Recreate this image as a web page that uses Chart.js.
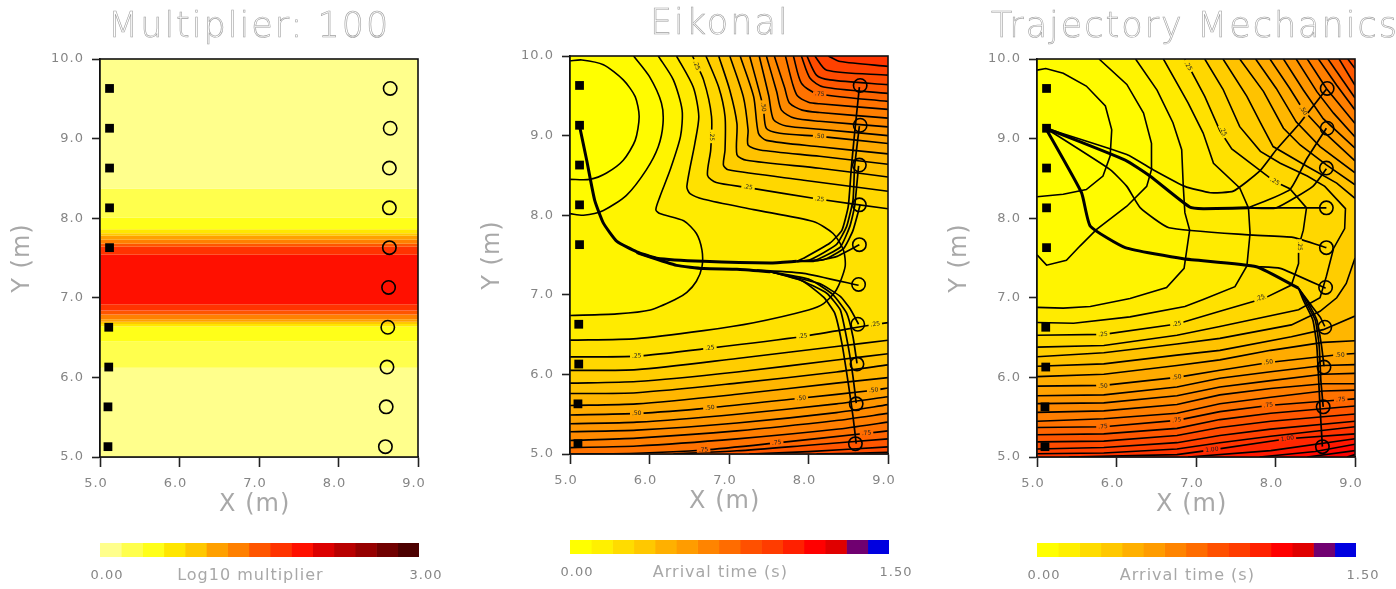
<!DOCTYPE html>
<html>
<head>
<meta charset="utf-8">
<title>Arrival time panels</title>
<script src="https://cdn.jsdelivr.net/npm/chart.js@4/dist/chart.umd.js"></script>
<style>
    html, body { margin: 0; padding: 0; background: #fff; overflow: hidden; width: 1396px; height: 589px; }
    .panel { position: absolute; width: 459px; height: 592px; }
    .panel canvas { position: absolute; left: 0; }
    .plot { top: 0; }
    .bar { top: 525px; }
    .heading {
        position: absolute; top: 0; white-space: nowrap; color: #fff;
        font: 200 35px/50px "DejaVu Sans", sans-serif; letter-spacing: 2px;
        -webkit-text-stroke: 0.6px #a0a0a0;
        will-change: transform;
    }
</style>
</head>
<body>
<script>
// receivers and sources (same survey in all three panels)
const receiverX = [8.65, 8.65, 8.64, 8.64, 8.64, 8.63, 8.62, 8.61, 8.60, 8.59];
const receiverY = [9.63, 9.13, 8.63, 8.13, 7.63, 7.13, 6.63, 6.13, 5.63, 5.13];
const sourceX = [5.12, 5.12, 5.12, 5.12, 5.12, 5.11, 5.11, 5.10, 5.10];
const sourceY = [9.63, 9.13, 8.63, 8.13, 7.63, 6.63, 6.13, 5.63, 5.13];

const axisTicksX = [5, 6, 7, 8, 9];
const axisTicksY = [5, 6, 7, 8, 9, 10];

// left panel, log10 multiplier in horizontal bands
const bandTop = [10, 8.37, 8.01, 7.86, 7.81, 7.78, 7.73, 7.68, 7.64, 7.54, 6.92, 6.84, 6.79, 6.73, 6.70, 6.67, 6.64, 6.45, 6.12];
const bandBottom = [8.37, 8.01, 7.86, 7.81, 7.78, 7.73, 7.68, 7.64, 7.54, 6.92, 6.84, 6.79, 6.73, 6.70, 6.67, 6.64, 6.45, 6.12, 5];
const bandLogValue = [0.1, 0.3, 0.5, 0.7, 0.9, 1.1, 1.3, 1.5, 1.7, 1.9, 1.7, 1.5, 1.3, 1.1, 0.9, 0.7, 0.5, 0.3, 0.1];

const logColors = ['#FFFF8C', '#FFFF4D', '#FFFF19', '#FFE600', '#FFC800', '#FFA000', '#FF8000', '#FF5500', '#FF3300', '#FF1000', '#DC0000', '#B80000', '#960000', '#700000', '#4C0000'];
const arrivalColors = ['#FFFF00', '#FFF000', '#FFDC00', '#FFC800', '#FFB000', '#FF9C00', '#FF8400', '#FF6C00', '#FF5000', '#FF3C00', '#FF2000', '#FF0000', '#E00000', '#700070', '#0000E0'];

// Eikonal contours: upper = from the top edge, lower = from the left edge
const eikonalLevels = [0.05, 0.10, 0.15, 0.20, 0.25, 0.30, 0.35, 0.40, 0.45, 0.50, 0.55, 0.60, 0.65, 0.70, 0.75, 0.80, 0.85, 0.90, 0.95];
const eikonalUpper = [
    [[5, 9.94], [5.15, 9.95], [5.42, 9.89], [5.67, 9.70], [5.82, 9.49], [5.87, 9.24], [5.82, 8.94], [5.67, 8.69], [5.46, 8.53], [5.25, 8.45], [5, 8.45]],
    [[5.80, 10], [6.0, 9.74], [6.15, 9.41], [6.17, 9.15], [6.11, 8.86], [5.96, 8.57], [5.71, 8.25], [5.42, 8.06], [5.17, 8.0], [5, 8.02]],
    [[6.11, 10], [6.30, 9.70], [6.41, 9.32], [6.39, 8.99], [6.26, 8.57], [6.13, 8.23], [6.08, 8.07], [6.13, 8.02], [6.43, 7.93], [6.59, 7.77], [6.66, 7.56], [6.66, 7.35], [6.59, 7.17], [6.47, 7.03], [6.34, 6.95], [6.01, 6.81], [5.59, 6.76], [5, 6.74]],
    [[6.34, 10], [6.55, 9.61], [6.62, 9.24], [6.57, 8.90], [6.47, 8.36], [6.51, 8.27], [6.68, 8.20], [7.31, 8.07], [8.06, 7.92], [8.31, 7.77], [8.44, 7.56], [8.46, 7.35], [8.35, 7.06], [8.19, 6.89], [8.0, 6.81], [7.31, 6.65], [6.68, 6.55], [5.84, 6.45], [5, 6.43]],
    [[6.54, 10], [6.68, 9.70], [6.78, 9.24], [6.77, 8.82], [6.73, 8.50], [6.84, 8.41], [7.22, 8.35], [8.14, 8.20], [9, 8.08]],
    [[6.71, 10], [6.87, 9.61], [6.95, 9.24], [6.95, 8.82], [6.93, 8.63], [6.99, 8.57], [7.94, 8.44], [9, 8.30]],
    [[6.87, 10], [7.01, 9.57], [7.10, 9.15], [7.10, 8.76], [7.22, 8.69], [8.14, 8.59], [9, 8.48]],
    [[7.01, 10], [7.18, 9.49], [7.24, 9.07], [7.24, 8.88], [7.39, 8.82], [8.14, 8.74], [9, 8.64]],
    [[7.14, 10], [7.31, 9.49], [7.37, 9.03], [7.47, 8.94], [8.14, 8.86], [9, 8.77]],
    [[7.26, 10], [7.43, 9.36], [7.47, 9.09], [7.64, 9.03], [8.14, 8.99], [9, 8.90]],
    [[7.38, 10], [7.50, 9.50], [7.56, 9.20], [7.72, 9.12], [8.14, 9.08], [9, 9.00]],
    [[7.47, 10], [7.60, 9.55], [7.66, 9.32], [7.82, 9.22], [8.14, 9.18], [9, 9.11]],
    [[7.57, 10], [7.70, 9.60], [7.76, 9.41], [7.92, 9.32], [8.14, 9.29], [9, 9.22]],
    [[7.71, 10], [7.80, 9.65], [7.86, 9.50], [8.0, 9.42], [8.14, 9.40], [9, 9.33]],
    [[7.81, 10], [7.91, 9.66], [8.10, 9.53], [9, 9.43]],
    [[7.91, 10], [8.02, 9.72], [8.19, 9.61], [9, 9.53]],
    [[7.98, 10], [8.10, 9.76], [8.27, 9.70], [9, 9.64]],
    [[8.08, 10], [8.23, 9.82], [9, 9.76]],
    [[8.25, 10], [8.40, 9.93], [9, 9.87]]
];
const eikonalLower = [
    [], [], [], [],
    [[5, 6.22], [5.84, 6.23], [6.76, 6.33], [7.94, 6.48], [8.84, 6.63], [9, 6.65]],
    [[5, 6.05], [5.84, 6.06], [7.10, 6.20], [8.35, 6.35], [9, 6.43]],
    [[5, 5.89], [5.84, 5.91], [7.10, 6.03], [8.35, 6.18], [9, 6.26]],
    [[5, 5.76], [5.84, 5.77], [7.10, 5.89], [8.35, 6.03], [9, 6.12]],
    [[5, 5.61], [5.84, 5.63], [7.10, 5.75], [8.35, 5.89], [9, 5.96]],
    [[5, 5.49], [5.84, 5.51], [6.76, 5.58], [7.89, 5.70], [8.82, 5.80], [9, 5.83]],
    [[5, 5.38], [5.84, 5.40], [7.10, 5.50], [8.35, 5.63], [9, 5.72]],
    [[5, 5.28], [5.84, 5.30], [7.10, 5.39], [8.35, 5.52], [9, 5.62]],
    [[5, 5.17], [5.84, 5.20], [7.10, 5.29], [8.35, 5.42], [9, 5.51]],
    [[5, 5.08], [5.84, 5.10], [7.10, 5.19], [8.35, 5.31], [9, 5.40]],
    [[5, 5.00], [5.84, 5.01], [6.68, 5.05], [7.6, 5.14], [8.73, 5.26], [9, 5.29]],
    [[6.3, 5.0], [7.10, 5.04], [8.0, 5.11], [9, 5.19]],
    [[7.25, 5.0], [8.0, 5.03], [9, 5.09]],
    [[8.1, 5.0], [9, 5.02]],
    [[9, 5]]
];
const eikonalLabelX = [6.59, 6.78, 7.43, 7.24, 8.14, 8.14, 8.14, 5.84, 6.76, 7.93, 8.84, 5.84, 6.76, 7.91, 8.82, 6.68, 7.6, 8.73];
const eikonalLabelY = [9.88, 8.99, 9.36, 8.35, 8.20, 8.99, 9.52, 6.23, 6.33, 6.48, 6.63, 5.51, 5.58, 5.70, 5.80, 5.05, 5.14, 5.26];
const eikonalLabelText = ['.25', '.25', '.50', '.25', '.25', '.50', '.75', '.25', '.25', '.25', '.25', '.50', '.50', '.50', '.50', '.75', '.75', '.75'];
const eikonalLabelAngle = [70, 90, 85, 8, 8, 5, 5, -2, -6, -7, -8, -3, -5, -6, -6, -3, -5, -6];
const eikonalTrunks = [
    [[5.12, 9.12], [5.21, 8.69], [5.31, 8.19], [5.42, 7.90], [5.59, 7.67], [5.84, 7.54], [6.09, 7.46], [6.68, 7.42], [7.52, 7.40], [7.85, 7.42]],
    [[5.84, 7.53], [6.34, 7.37], [6.68, 7.33], [7.10, 7.32], [7.52, 7.29]]
];
const eikonalRays = [
    [[7.85, 7.42], [7.94, 7.46], [8.27, 7.65], [8.42, 7.81], [8.50, 8.11], [8.54, 8.61], [8.58, 9.03], [8.64, 9.61]],
    [[7.85, 7.42], [8.02, 7.44], [8.35, 7.63], [8.48, 7.86], [8.56, 8.19], [8.58, 8.61], [8.64, 9.12]],
    [[7.85, 7.42], [8.10, 7.44], [8.40, 7.60], [8.52, 7.86], [8.58, 8.11], [8.63, 8.62]],
    [[7.85, 7.42], [8.19, 7.44], [8.44, 7.58], [8.56, 7.81], [8.65, 8.13]],
    [[7.85, 7.42], [8.06, 7.42], [8.35, 7.48], [8.64, 7.63]],
    [[7.35, 7.31], [7.94, 7.27], [8.63, 7.12]],
    [[7.52, 7.29], [8.14, 7.14], [8.40, 6.98], [8.52, 6.83], [8.63, 6.63]],
    [[7.52, 7.29], [8.02, 7.19], [8.31, 7.0], [8.48, 6.77], [8.56, 6.47], [8.61, 6.14]],
    [[7.52, 7.29], [7.89, 7.19], [8.23, 7.02], [8.40, 6.81], [8.50, 6.35], [8.56, 5.97], [8.60, 5.64]],
    [[7.52, 7.29], [7.93, 7.17], [8.19, 6.97], [8.33, 6.77], [8.42, 6.39], [8.50, 5.89], [8.56, 5.47], [8.60, 5.13]]
];

// Trajectory mechanics contours, coarser grid so no smoothing on these
const trajectoryLevels = [0.05, 0.10, 0.15, 0.20, 0.25, 0.30, 0.35, 0.40, 0.45, 0.50, 0.55, 0.60, 0.65, 0.70, 0.75, 0.80, 0.85, 0.90, 0.95, 1.00, 1.05, 1.10, 1.15, 1.20];
const trajectoryUpper = [
    [[5, 9.86], [5.11, 9.88], [5.33, 9.82], [5.62, 9.66], [5.86, 9.41], [5.94, 9.11], [5.92, 8.78], [5.83, 8.53], [5.62, 8.36], [5.33, 8.30], [5, 8.27]],
    [[5.78, 10], [6.13, 9.68], [6.34, 9.32], [6.44, 8.94], [6.44, 8.61], [6.38, 8.40], [6.13, 8.15], [5.75, 7.86], [5.54, 7.65], [5.37, 7.47], [5.12, 7.41], [5, 7.54]],
    [[6.24, 10], [6.51, 9.61], [6.71, 9.20], [6.82, 8.86], [6.84, 8.40], [6.86, 8.07], [6.92, 7.85], [6.85, 7.37], [6.63, 7.13], [6.17, 6.99], [5.67, 6.89], [5.33, 6.87], [5, 6.88]],
    [[6.59, 10], [6.90, 9.45], [7.09, 9.07], [7.22, 8.69], [7.55, 8.38], [7.66, 8.13], [7.68, 7.81], [7.64, 7.40], [7.49, 7.14], [7.09, 6.98], [6.86, 6.89], [6.17, 6.76], [5.46, 6.68], [5, 6.69]],
    [[6.86, 10], [7.11, 9.53], [7.30, 9.10], [7.45, 8.87], [7.78, 8.62], [7.99, 8.46], [8.18, 8.37], [8.39, 8.13], [8.35, 7.85], [8.29, 7.64], [8.29, 7.43], [8.20, 7.16], [7.85, 6.99], [7.30, 6.83], [6.76, 6.67], [5.84, 6.54], [5, 6.53]],
    [[7.11, 10], [7.34, 9.62], [7.55, 9.15], [7.81, 8.84], [8.06, 8.69], [8.40, 8.53], [8.62, 8.40], [8.88, 8.12], [8.87, 7.87], [8.73, 7.62], [8.64, 7.27], [8.56, 7.0], [8.29, 6.85], [7.30, 6.64], [6.76, 6.53], [5.84, 6.40], [5, 6.38]],
    [[7.34, 10], [7.64, 9.53], [7.81, 9.20], [7.97, 8.90], [8.40, 8.65], [8.77, 8.44], [9, 8.25]],
    [[7.55, 10], [7.85, 9.59], [8.10, 9.13], [8.31, 8.92], [8.64, 8.67], [9, 8.42]],
    [[7.75, 10], [8.01, 9.63], [8.26, 9.21], [8.56, 8.90], [9, 8.57]],
    [[7.93, 10], [8.18, 9.63], [8.35, 9.36], [8.60, 9.09], [9, 8.72]],
    [[8.10, 10], [8.35, 9.61], [8.60, 9.25], [9, 8.88]],
    [[8.26, 10], [8.52, 9.59], [8.73, 9.32], [9, 9.02]],
    [[8.40, 10], [8.64, 9.63], [9, 9.19]],
    [[8.54, 10], [8.77, 9.67], [9, 9.36]],
    [[8.66, 10], [9, 9.51]],
    [[8.80, 10], [9, 9.67]],
    [[8.91, 10], [9, 9.88]],
    [], [], [], [], [], [], []
];
const trajectoryLower = [
    [], [], [], [], [], [],
    [[5, 6.26], [5.84, 6.31], [6.76, 6.42], [7.30, 6.49], [8.20, 6.66], [8.56, 6.83], [8.77, 7.0], [8.89, 7.18], [9, 7.50]],
    [[5, 6.14], [5.84, 6.17], [6.76, 6.28], [7.30, 6.34], [8.2, 6.51], [8.6, 6.60], [9, 6.77]],
    [[5, 6.01], [5.84, 6.04], [6.76, 6.15], [7.30, 6.22], [7.94, 6.34], [8.6, 6.44], [9, 6.46]],
    [[5, 5.89], [5.84, 5.90], [6.76, 6.0], [7.30, 6.09], [7.94, 6.19], [8.84, 6.29], [9, 6.30]],
    [[5, 5.77], [5.84, 5.78], [6.76, 5.88], [7.30, 5.99], [7.94, 6.07], [8.6, 6.15], [9, 6.16]],
    [[5, 5.67], [5.84, 5.68], [6.76, 5.77], [7.30, 5.88], [7.94, 5.96], [8.6, 6.04], [9, 6.05]],
    [[5, 5.56], [5.84, 5.58], [6.76, 5.66], [7.30, 5.78], [7.94, 5.86], [8.6, 5.92], [9, 5.92]],
    [[5, 5.45], [5.84, 5.48], [6.76, 5.55], [7.30, 5.67], [7.94, 5.75], [8.6, 5.83], [9, 5.84]],
    [[5, 5.37], [5.84, 5.38], [6.76, 5.46], [7.30, 5.57], [7.94, 5.65], [8.84, 5.72], [9, 5.73]],
    [[5, 5.28], [5.84, 5.29], [6.76, 5.36], [7.30, 5.47], [7.94, 5.55], [9, 5.64]],
    [[5, 5.19], [5.84, 5.20], [6.76, 5.27], [7.30, 5.37], [7.94, 5.45], [9, 5.54]],
    [[5, 5.10], [5.84, 5.12], [6.76, 5.18], [7.30, 5.27], [7.94, 5.35], [9, 5.45]],
    [[5, 5.04], [5.84, 5.05], [6.76, 5.10], [7.30, 5.18], [7.94, 5.26], [9, 5.38]],
    [[5.4, 5.0], [6.76, 5.03], [7.20, 5.09], [8.15, 5.23], [9, 5.29]],
    [[6.9, 5.0], [7.94, 5.08], [9, 5.23]],
    [[7.8, 5.0], [8.5, 5.07], [9, 5.16]],
    [[8.4, 5.0], [9, 5.08]],
    [[8.9, 5.0], [9, 5.03]]
];
const trajectoryLabelX = [6.90, 7.34, 7.99, 8.35, 8.30, 7.81, 5.83, 6.76, 5.83, 6.76, 7.91, 8.81, 5.83, 6.76, 7.91, 8.82, 7.20, 8.15];
const trajectoryLabelY = [9.91, 9.09, 8.46, 9.35, 7.65, 7.0, 6.54, 6.67, 5.89, 6.0, 6.19, 6.28, 5.38, 5.46, 5.65, 5.72, 5.09, 5.23];
const trajectoryLabelText = ['.25', '.25', '.25', '.50', '.25', '.25', '.25', '.25', '.50', '.50', '.50', '.50', '.75', '.75', '.75', '.75', '1.00', '1.00'];
const trajectoryLabelAngle = [60, 65, 30, 55, 90, -20, -3, -8, -3, -7, -7, -2, -3, -7, -7, -2, -6, -8];
const trajectoryTrunks = [
    [[5.11, 9.13], [5.56, 8.32], [5.67, 7.90], [6.11, 7.63], [6.84, 7.49], [7.76, 7.39], [8.29, 7.12]],
    [[5.11, 9.13], [6.11, 8.73], [6.42, 8.53], [6.92, 8.14], [7.09, 8.12], [7.66, 8.13]]
];
const trajectoryRays = [
    [[5.11, 9.13], [6.13, 8.80], [6.46, 8.61], [6.86, 8.40], [7.18, 8.32], [7.47, 8.34], [7.80, 8.59], [8.01, 8.86], [8.31, 9.20], [8.64, 9.62]],
    [[7.66, 8.13], [8.18, 8.36], [8.39, 8.74], [8.64, 9.13]],
    [[7.66, 8.13], [8.01, 8.13], [8.47, 8.40], [8.64, 8.62]],
    [[7.66, 8.13], [8.64, 8.13]],
    [[5.11, 9.13], [5.92, 8.61], [6.13, 8.40], [6.30, 8.13], [6.66, 7.88], [7.66, 7.79], [8.22, 7.76], [8.64, 7.63]],
    [[7.76, 7.39], [8.06, 7.37], [8.63, 7.12]],
    [[8.29, 7.12], [8.43, 6.93], [8.56, 6.76], [8.62, 6.64]],
    [[8.29, 7.12], [8.39, 6.97], [8.52, 6.72], [8.58, 6.39], [8.61, 6.14]],
    [[8.29, 7.12], [8.37, 6.97], [8.50, 6.72], [8.55, 6.39], [8.57, 5.97], [8.60, 5.63]],
    [[8.29, 7.12], [8.35, 6.97], [8.47, 6.72], [8.52, 6.39], [8.56, 5.63], [8.59, 5.13]]
];

const textFont = '"DejaVu Sans", sans-serif';
const tickGrey = '#858585';
const titleGrey = '#a8a8a8';
const PLOT_LEFT = 100, PLOT_TOP = 59, PLOT_RIGHT = 418, PLOT_BOTTOM = 457, PLOT_CANVAS_H = 525;

const toPoints = pairs => pairs.map(p => ({ x: p[0], y: p[1] }));

function hexToRgb(hex) {
    return [1, 3, 5].map(i => parseInt(hex.slice(i, i + 2), 16));
}

// colour of arrival time t, blended between the colour bar steps so the fill looks shaded
function shadeFor(t) {
    const pos = Math.max(0, t / 0.1 - 0.5);
    const i = Math.min(Math.floor(pos), arrivalColors.length - 2);
    const a = hexToRgb(arrivalColors[i]);
    const b = hexToRgb(arrivalColors[i + 1]);
    const f = Math.min(pos - i, 1);
    return `rgb(${a.map((v, k) => Math.round(v + (b[k] - v) * f)).join(',')})`;
}

function fillSet(pairs, color) {
    return { data: toPoints(pairs), showLine: true, fill: 'shape', backgroundColor: color, borderWidth: 0, pointRadius: 0, tension: 0 };
}

function lineSet(pairs, width, tension) {
    return { data: toPoints(pairs), showLine: true, fill: false, borderColor: '#000', borderWidth: width, pointRadius: 0, tension: tension };
}

function markerSets() {
    return [
        {
            data: receiverX.map((x, i) => ({ x, y: receiverY[i] })),
            pointStyle: 'circle', pointRadius: 6.7, pointBorderWidth: 1.6,
            pointBorderColor: '#000', pointBackgroundColor: 'rgba(0,0,0,0)', clip: false
        },
        {
            data: sourceX.map((x, i) => ({ x, y: sourceY[i] })),
            pointStyle: 'rect', pointRadius: 6.2, pointBorderWidth: 0, pointBackgroundColor: '#000', clip: false
        }
    ];
}

// dataset 0 is painted last by Chart.js, so the lowest level goes first and the base last
function contourSets(levels, upper, lower, trunks, rays, tension) {
    const sets = markerSets();
    rays.forEach(r => sets.push(lineSet(r, 1.7, 0.15)));
    trunks.forEach(r => sets.push(lineSet(r, 3, 0.15)));
    levels.forEach((lv, i) => {
        if (upper[i].length) sets.push(lineSet(upper[i], 1.6, tension));
        if (lower[i].length > 1) sets.push(lineSet(lower[i], 1.6, tension));
    });
    levels.forEach((lv, i) => {
        const poly = [];
        if (lower[i].length) poly.push([5, 5], ...lower[i]);
        if (upper[i].length) poly.push(...upper[i].slice().reverse());
        else poly.push([9, 10]);
        poly.push([5, 10]);
        sets.push(fillSet(poly, shadeFor(lv - 0.025)));
    });
    const top = levels[levels.length - 1];
    sets.push(fillSet([[5, 5], [9, 5], [9, 10], [5, 10]], shadeFor(top + 0.025)));
    return sets;
}

function bandSets() {
    const sets = markerSets();
    bandTop.forEach((top, i) => {
        const color = logColors[Math.floor(bandLogValue[i] / 0.2)];
        sets.push(fillSet([[5, top], [9, top], [9, bandBottom[i]], [5, bandBottom[i]]], color));
    });
    return sets;
}

const spacedText = {
    id: 'spacedText',
    beforeDraw(chart) { chart.ctx.letterSpacing = '1px'; }
};

const plotFrame = {
    id: 'plotFrame',
    afterDraw(chart) {
        const { ctx, chartArea: a } = chart;
        ctx.save();
        ctx.strokeStyle = '#111';
        ctx.lineWidth = 1.6;
        ctx.strokeRect(a.left, a.top, a.right - a.left, a.bottom - a.top);
        ctx.restore();
    }
};

function contourLabelPlugin(labels) {
    return {
        id: 'contourLabels',
        afterDatasetsDraw(chart) {
            if (!labels) return;
            const { ctx, scales } = chart;
            labels.x.forEach((x, i) => {
                const text = labels.text[i];
                ctx.save();
                ctx.translate(scales.x.getPixelForValue(x), scales.y.getPixelForValue(labels.y[i]));
                ctx.rotate(labels.angle[i] * Math.PI / 180);
                ctx.letterSpacing = '0px';
                ctx.font = '6px ' + textFont;
                ctx.textAlign = 'center';
                ctx.textBaseline = 'middle';
                const w = ctx.measureText(text).width + 4;
                ctx.fillStyle = shadeFor(parseFloat(text));
                ctx.fillRect(-w / 2, -2.5, w, 5);
                ctx.fillStyle = '#222';
                ctx.fillText(text, 0, 0);
                ctx.restore();
            });
        }
    };
}

function addPanel(cfg) {
    const host = document.createElement('div');
    host.className = 'panel';
    host.style.left = cfg.left + 'px';
    host.style.top = cfg.top + 'px';
    document.body.appendChild(host);

    const heading = document.createElement('div');
    heading.className = 'heading';
    heading.style.left = cfg.titleLeft + 'px';
    heading.textContent = cfg.title;
    host.appendChild(heading);

    const plotCanvas = document.createElement('canvas');
    plotCanvas.className = 'plot';
    plotCanvas.width = 459;
    plotCanvas.height = PLOT_CANVAS_H;
    host.appendChild(plotCanvas);

    new Chart(plotCanvas, {
        type: 'scatter',
        data: { datasets: cfg.datasets },
        plugins: [spacedText, contourLabelPlugin(cfg.labels), plotFrame],
        options: {
            responsive: false,
            animation: false,
            events: [],
            layout: { padding: { top: PLOT_TOP, right: 459 - PLOT_RIGHT, left: 0, bottom: 0 } },
            plugins: { legend: { display: false }, tooltip: { enabled: false } },
            scales: {
                x: {
                    type: 'linear', min: 5, max: 9,
                    afterBuildTicks: s => { s.ticks = axisTicksX.map(value => ({ value })); },
                    afterFit: s => { s.height = PLOT_CANVAS_H - PLOT_BOTTOM; },
                    border: { color: '#111', width: 1.6 },
                    grid: { drawOnChartArea: false, tickLength: 10, tickColor: '#222', tickWidth: 1.6 },
                    ticks: { callback: v => v.toFixed(1), color: tickGrey, font: { family: textFont, size: 13 }, padding: 9, labelOffset: -4, maxRotation: 0, autoSkip: false },
                    title: { display: true, text: 'X (m)\u00a0', color: titleGrey, font: { family: textFont, size: 24 }, padding: { top: 0, bottom: 6 } }
                },
                y: {
                    type: 'linear', min: 5, max: 10,
                    afterBuildTicks: s => { s.ticks = axisTicksY.map(value => ({ value })); },
                    afterFit: s => { s.width = PLOT_LEFT; },
                    border: { color: '#111', width: 1.6 },
                    grid: { drawOnChartArea: false, tickLength: 8, tickColor: '#222', tickWidth: 1.6 },
                    ticks: { callback: v => v.toFixed(1), color: tickGrey, font: { family: textFont, size: 13 }, padding: 8, autoSkip: false },
                    title: { display: true, text: 'Y (m)', color: titleGrey, font: { family: textFont, size: 24 }, padding: { top: 8, bottom: 0 } }
                }
            }
        }
    });

    const barCanvas = document.createElement('canvas');
    barCanvas.className = 'bar';
    barCanvas.width = 459;
    barCanvas.height = 64;
    host.appendChild(barCanvas);

    const step = cfg.barMax / cfg.barColors.length;
    new Chart(barCanvas, {
        type: 'bar',
        data: {
            labels: [''],
            datasets: cfg.barColors.map(color => ({ data: [step], backgroundColor: color, barPercentage: 1, categoryPercentage: 1 }))
        },
        plugins: [spacedText],
        options: {
            responsive: false,
            animation: false,
            events: [],
            indexAxis: 'y',
            layout: { padding: { top: 18, left: PLOT_LEFT, right: 459 - PLOT_RIGHT - 1, bottom: 0 } },
            plugins: { legend: { display: false }, tooltip: { enabled: false } },
            scales: {
                x: {
                    type: 'linear', stacked: true, min: 0, max: cfg.barMax,
                    afterBuildTicks: s => { s.ticks = [0, cfg.barMax].map(value => ({ value })); },
                    afterFit: s => { s.height = 32; },
                    border: { display: false },
                    grid: { display: false, drawTicks: false },
                    ticks: { callback: v => v.toFixed(2), color: tickGrey, font: { family: textFont, size: 13 }, padding: 11, labelOffset: 7, maxRotation: 0, autoSkip: false },
                    title: { display: true, text: cfg.barTitle + '\u00a0\u00a0\u00a0', color: titleGrey, font: { family: textFont, size: 16 }, padding: { top: 0, bottom: 4 } }
                },
                y: { stacked: true, display: false, grid: { display: false } }
            }
        }
    });
}

addPanel({
    left: 0, top: 0, titleLeft: 108, title: 'Multiplier: 100',
    datasets: bandSets(), labels: null,
    barColors: logColors, barMax: 3, barTitle: 'Log10 multiplier'
});
addPanel({
    left: 470, top: -3, titleLeft: 180, title: 'Eikonal',
    datasets: contourSets(eikonalLevels, eikonalUpper, eikonalLower, eikonalTrunks, eikonalRays, 0.25),
    labels: { x: eikonalLabelX, y: eikonalLabelY, text: eikonalLabelText, angle: eikonalLabelAngle },
    barColors: arrivalColors, barMax: 1.5, barTitle: 'Arrival time (s)'
});
addPanel({
    left: 937, top: 0, titleLeft: 54, title: 'Trajectory Mechanics',
    datasets: contourSets(trajectoryLevels, trajectoryUpper, trajectoryLower, trajectoryTrunks, trajectoryRays, 0),
    labels: { x: trajectoryLabelX, y: trajectoryLabelY, text: trajectoryLabelText, angle: trajectoryLabelAngle },
    barColors: arrivalColors, barMax: 1.5, barTitle: 'Arrival time (s)'
});
</script>
</body>
</html>
